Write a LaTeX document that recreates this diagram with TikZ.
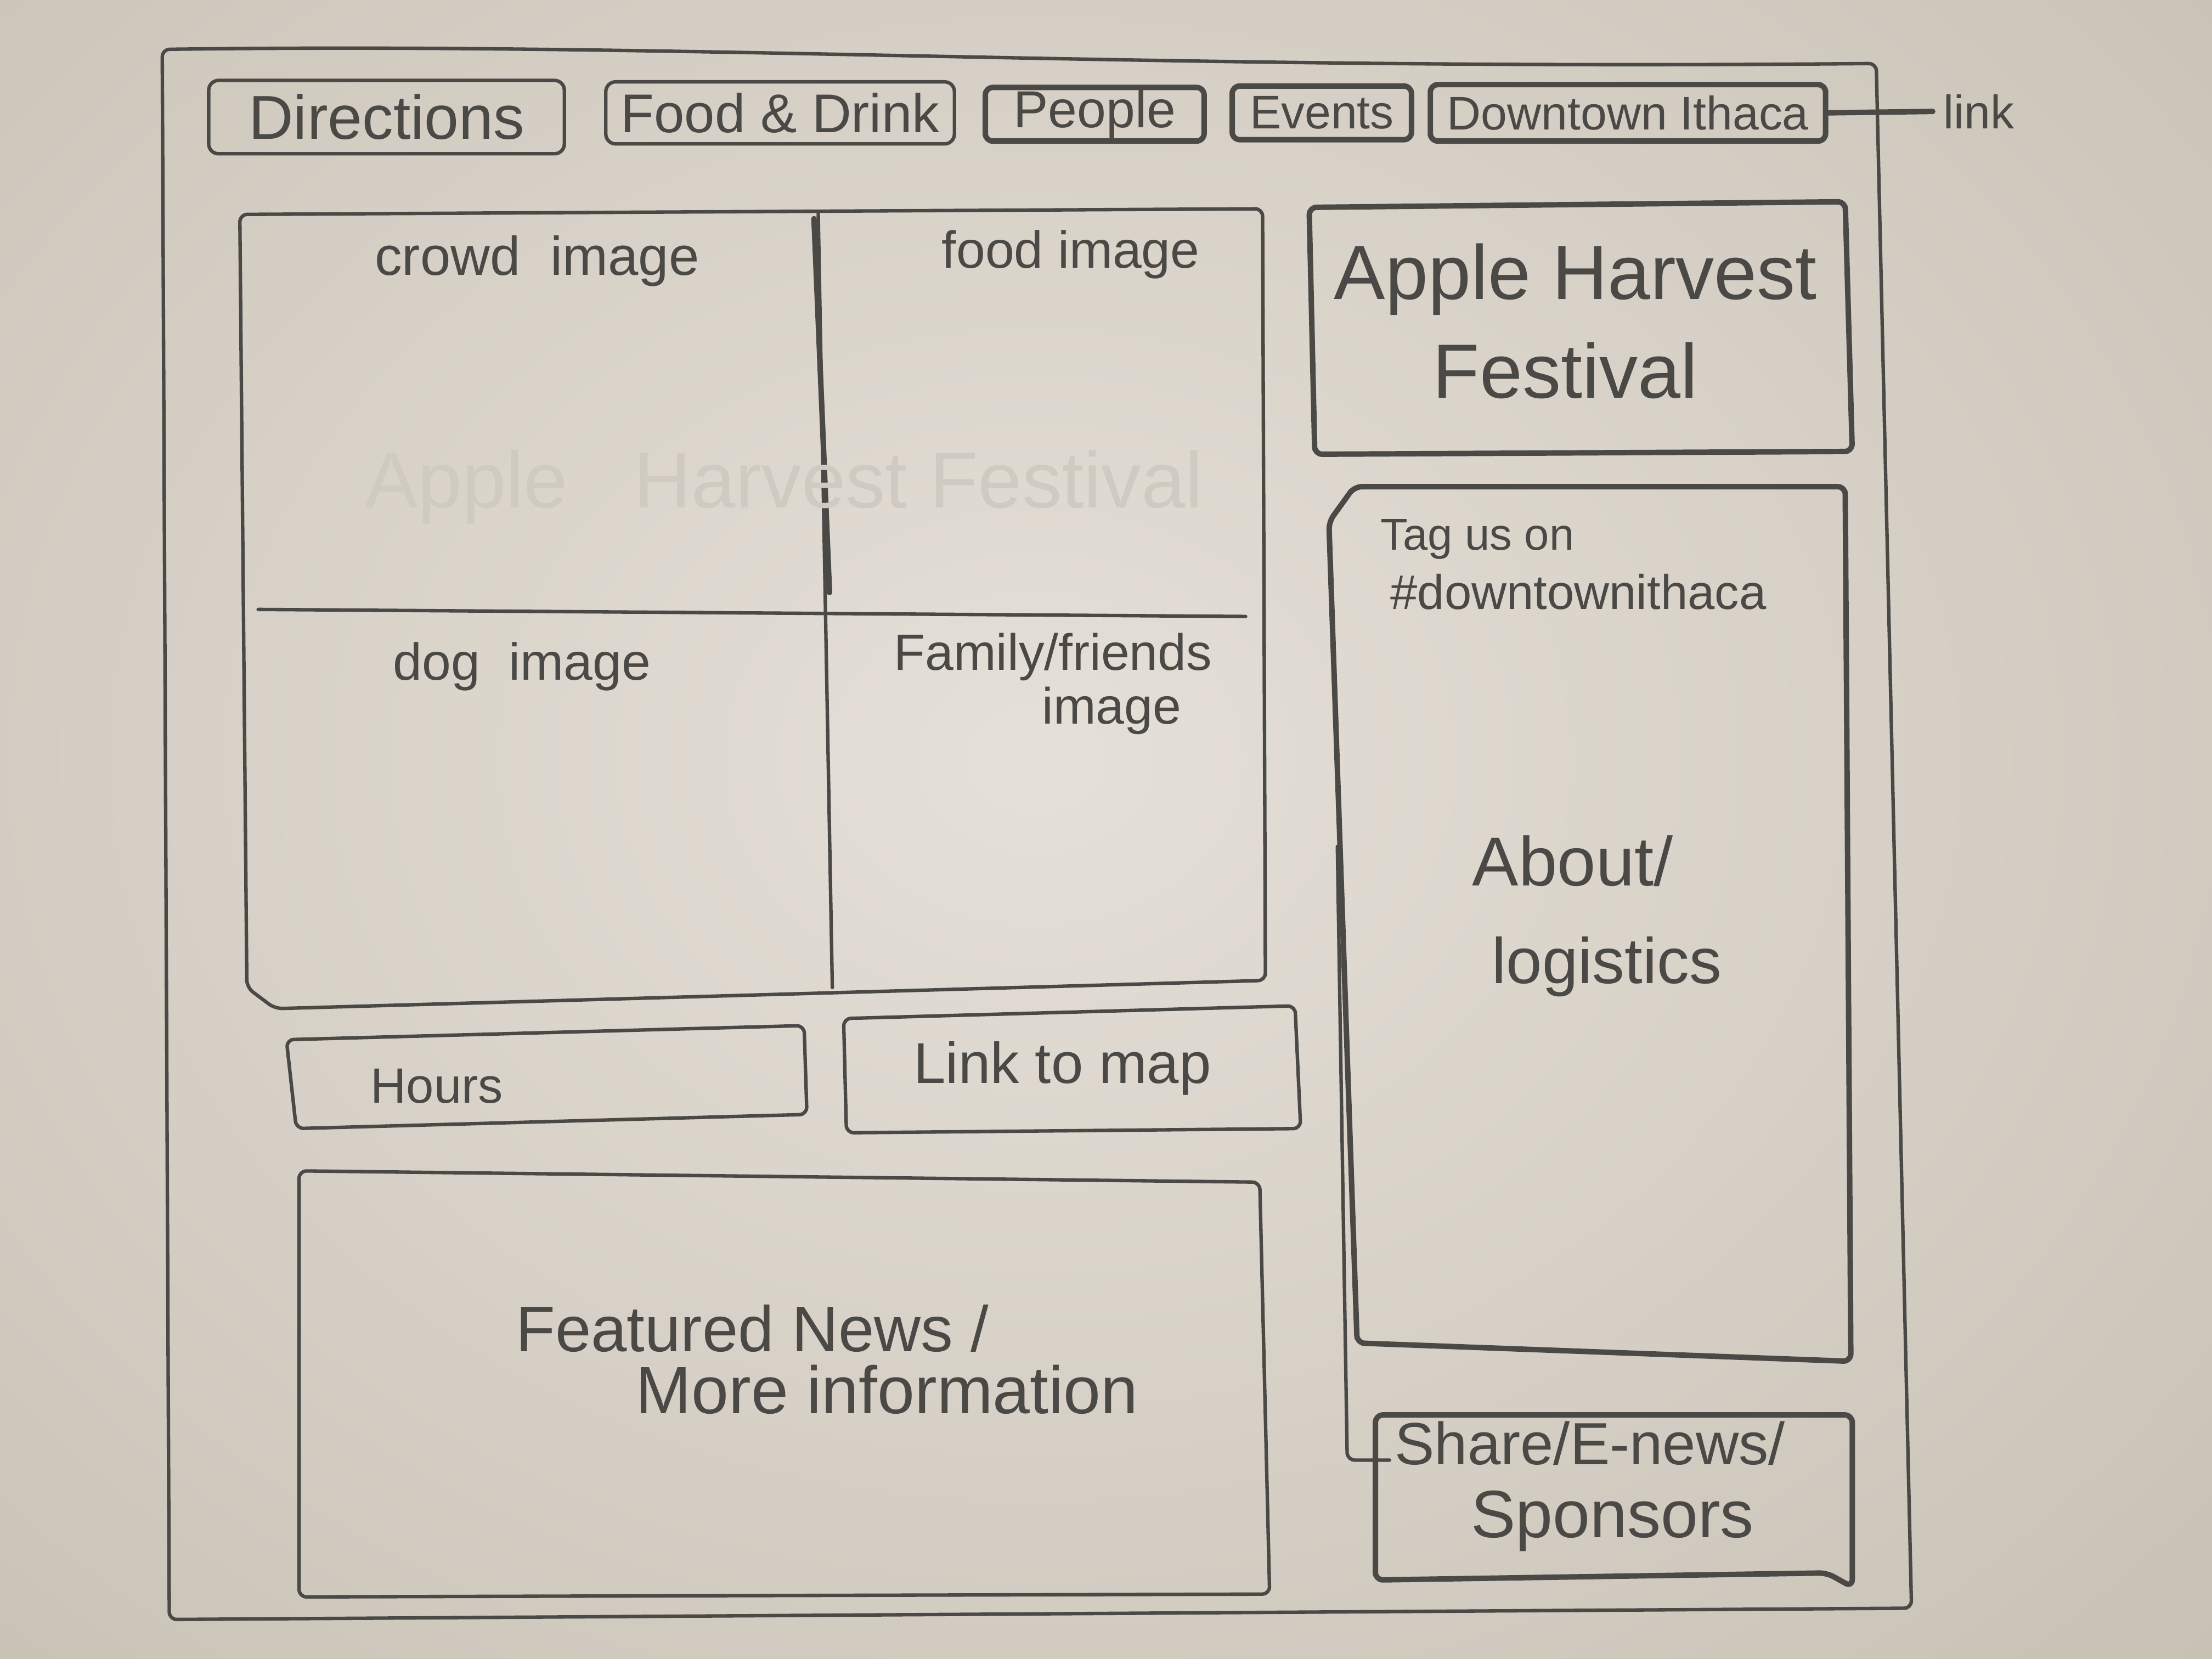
\documentclass[tikz,border=0pt]{standalone}
\usepackage{fontspec}
\setmainfont{Liberation Sans}
\definecolor{pencil}{HTML}{4A4946}
\definecolor{ghost}{HTML}{CFCAC2}
\definecolor{paperL}{HTML}{E5E0D8}
\definecolor{paperD}{HTML}{C6BFB3}
\newcommand{\fs}[1]{\fontsize{#1}{#1}\selectfont}
\tikzset{
  pencil/.style={draw=pencil, line width=0.7pt, line cap=round, line join=round, rounded corners=1.5pt},
  heavy/.style={pencil, line width=1.1pt},
  navbtn/.style={pencil, rounded corners=2pt, inner sep=0pt, text=pencil},
  lbl/.style={text=pencil, inner sep=0pt, anchor=base west},
}
\begin{document}
\begin{tikzpicture}[x=0.01cm, y=-0.01cm]
  % paper
  \useasboundingbox (0,0) rectangle (1568,1176);
  \shade[inner color=paperL, outer color=paperD] (-500,-450) rectangle (1968,1526);

  % page frame
  \draw[pencil] (115,35) .. controls (500,30) and (800,50) .. (1330,45)
    -- (1355,1140) -- (120,1148) -- cycle;

  % navigation bar
  \node[navbtn, minimum width=2.52cm, minimum height=0.52cm, font=\fs{12.5}] (bDir) at (274,83) {Directions};
  \node[navbtn, minimum width=2.47cm, minimum height=0.44cm, font=\fs{11}] (bFood) at (553,80) {Food \& Drink};
  \node[navbtn, heavy, minimum width=1.55cm, minimum height=0.38cm, font=\fs{10.5}] (bPeople) at (776,81) {People};
  \node[navbtn, heavy, minimum width=1.27cm, minimum height=0.38cm, font=\fs{9.5}] (bEvents) at (937,80) {Events};
  \node[navbtn, heavy, minimum width=2.80cm, minimum height=0.40cm, font=\fs{9.5}] (bDown) at (1154,80) {Downtown Ithaca};
  \node[text=pencil, inner sep=2pt, anchor=west, font=\fs{9.5}] (tLink) at (1370,79) {link};
  \draw[heavy] (bDown.east) -- (tLink.west);

  % image grid
  \draw[pencil] (170,152) -- (895,148) -- (897,695) -- (195,715) -- (175,700) -- cycle;
  \draw[pencil] (580,150) -- (590,700);
  \draw[heavy] (577,155) -- (588,420);
  \draw[pencil] (183,432) -- (883,437);
  \node[lbl, text=ghost, font=\fs{16}] (tMark) at (258,360) {Apple\ \ \ Harvest Festival};
  \node[lbl, font=\fs{11}] (tCrowd) at (265,195) {crowd\ \ image};
  \node[lbl, font=\fs{10.5}] (tFood) at (667,190) {food image};
  \node[lbl, font=\fs{10.5}] (tDog) at (278,482) {dog\ \ image};
  \node[lbl, font=\fs{10.3}] (tFam) at (633,475) {Family/friends};
  \node[lbl, font=\fs{10.3}] (tFam2) at (738,513) {image};

  % title box
  \draw[heavy] (928,147) -- (1308,143) -- (1313,320) -- (932,322) -- cycle;
  \node[lbl, font=\fs{15.5}] (tTitle) at (945,212) {Apple Harvest};
  \node[lbl, font=\fs{15.5}] (tTitle2) at (1015,282) {Festival};

  % about / logistics column
  \draw[heavy] (960,345) -- (1308,345) -- (1312,965) -- (962,952) -- (942,370) -- cycle;
  \draw[pencil] (948,600) -- (955,1035) -- (985,1035);
  \node[lbl, font=\fs{9}] (tTag) at (978,390) {Tag us on};
  \node[lbl, font=\fs{9.8}] (tHash) at (985,432) {\#downtownithaca};
  \node[lbl, font=\fs{14}] (tAbout) at (1043,628) {About/};
  \node[lbl, font=\fs{13}] (tLog) at (1057,697) {logistics};

  % share box
  \draw[heavy] (975,1003) -- (1313,1003) -- (1313,1125) -- (1295,1115) -- (975,1120) -- cycle;
  \node[lbl, font=\fs{12}] (tShare) at (988,1038) {Share/E-news/};
  \node[lbl, font=\fs{13.5}] (tSpons) at (1042,1090) {Sponsors};

  % hours and map
  \draw[pencil] (203,737) -- (570,727) -- (572,790) -- (210,800) -- cycle;
  \node[lbl, font=\fs{10}] (tHours) at (262,782) {Hours};
  \draw[pencil] (598,722) -- (918,713) -- (922,800) -- (600,803) -- cycle;
  \node[lbl, font=\fs{11.6}] (tMap) at (647,768) {Link to map};

  % featured news
  \draw[pencil] (212,830) -- (893,838) -- (900,1130) -- (212,1132) -- cycle;
  \node[lbl, font=\fs{13}] (tNews) at (365,958) {Featured News /};
  \node[lbl, font=\fs{13.5}] (tMore) at (450,1002) {More information};
\end{tikzpicture}
\end{document}
